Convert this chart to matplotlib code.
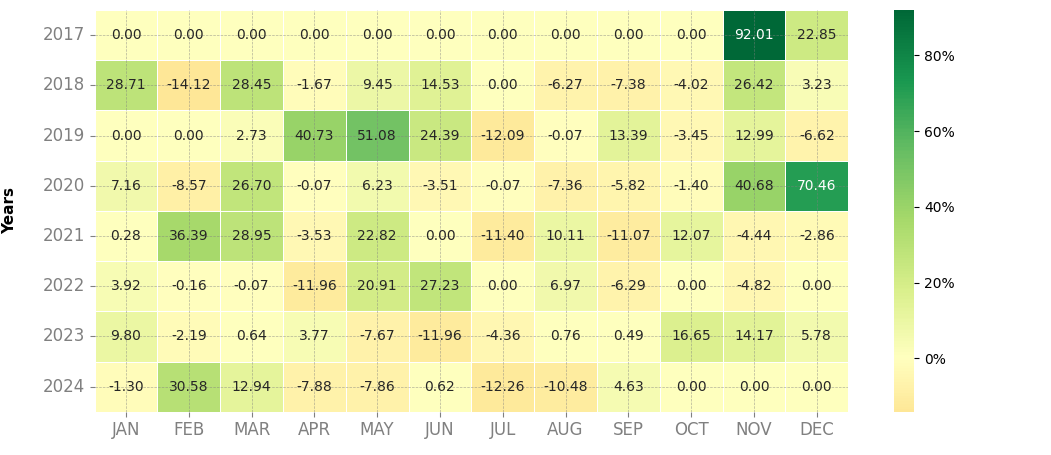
import numpy as np
import matplotlib
matplotlib.use("Agg")
import matplotlib.pyplot as plt
import matplotlib.ticker as mtick
import seaborn as sns

# Monthly returns (%) per year
years = [2017, 2018, 2019, 2020, 2021, 2022, 2023, 2024]
months = ["JAN", "FEB", "MAR", "APR", "MAY", "JUN", "JUL", "AUG", "SEP", "OCT", "NOV", "DEC"]
r2017 = [0.00, 0.00, 0.00, 0.00, 0.00, 0.00, 0.00, 0.00, 0.00, 0.00, 92.01, 22.85]
r2018 = [28.71, -14.12, 28.45, -1.67, 9.45, 14.53, 0.00, -6.27, -7.38, -4.02, 26.42, 3.23]
r2019 = [0.00, 0.00, 2.73, 40.73, 51.08, 24.39, -12.09, -0.07, 13.39, -3.45, 12.99, -6.62]
r2020 = [7.16, -8.57, 26.70, -0.07, 6.23, -3.51, -0.07, -7.36, -5.82, -1.40, 40.68, 70.46]
r2021 = [0.28, 36.39, 28.95, -3.53, 22.82, 0.00, -11.40, 10.11, -11.07, 12.07, -4.44, -2.86]
r2022 = [3.92, -0.16, -0.07, -11.96, 20.91, 27.23, 0.00, 6.97, -6.29, 0.00, -4.82, 0.00]
r2023 = [9.80, -2.19, 0.64, 3.77, -7.67, -11.96, -4.36, 0.76, 0.49, 16.65, 14.17, 5.78]
r2024 = [-1.30, 30.58, 12.94, -7.88, -7.86, 0.62, -12.26, -10.48, 4.63, 0.00, 0.00, 0.00]

data = np.array([r2017, r2018, r2019, r2020, r2021, r2022, r2023, r2024])

fig = plt.figure(figsize=(10.51, 4.55), dpi=100)
ax = fig.add_axes([0.090, 0.095, 0.717, 0.883])
cax = fig.add_axes([0.851, 0.095, 0.019, 0.883])

sns.heatmap(data, ax=ax, cbar_ax=cax, cmap="RdYlGn", center=0,
            annot=True, fmt=".2f", annot_kws={"size": 10},
            linewidths=0.5, linecolor="white",
            xticklabels=months, yticklabels=years,
            cbar_kws={"format": mtick.PercentFormatter(decimals=0)})

# light text on the darkest cells
for t in ax.texts:
    t.set_color("white" if float(t.get_text()) > 60 else "#262626")

ax.set_axisbelow(False)
ax.grid(True, linestyle="--", color="gray", linewidth=0.5, alpha=0.6)
ax.tick_params(axis="both", colors="gray", labelsize=12)
ax.tick_params(axis="y", rotation=0)
ax.set_ylabel("Years", fontsize=11, fontweight="bold", labelpad=18)
ax.set_xlabel("")
cax.tick_params(labelsize=10)
cax.set_frame_on(False)

fig.savefig("out.png", dpi=100)
